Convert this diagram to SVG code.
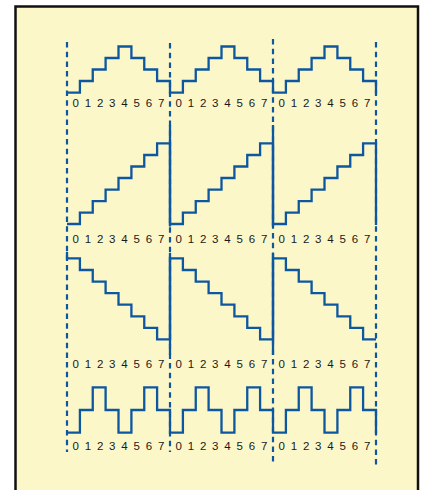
<svg xmlns="http://www.w3.org/2000/svg" width="426" height="490" viewBox="0 0 426 490">
<style>
.wave{fill:none;stroke:#0d57a0;stroke-width:2.3;stroke-linejoin:miter;stroke-linecap:butt}
.bar{fill:none;stroke:#0d57a0;stroke-width:2.3}
.dash{fill:none;stroke:#0d57a0;stroke-width:2.2;stroke-dasharray:5.5 4.2}
.lbl{font-family:"Liberation Sans",Arial,sans-serif;font-size:11.5px;fill:#1a1a1a;text-anchor:middle}
</style>
<rect x="0" y="0" width="426" height="490" fill="#ffffff"/>
<rect x="15.5" y="6.5" width="402.5" height="500" fill="#fcf7c9" stroke="#111" stroke-width="2.5"/>
<g id="grid">
<line class="dash" x1="67" y1="42" x2="67" y2="452"/>
<line class="dash" x1="170" y1="43" x2="170" y2="452"/>
<line class="dash" x1="273" y1="39" x2="273" y2="463"/>
<line class="dash" x1="376" y1="42" x2="376" y2="467"/>
</g>
<g id="row1">
<path class="wave" d="M67 92.7 H79.9 V81 H92.75 V69.5 H105.6 V58 H118.5 V46.5 H131.4 V58 H144.25 V69.5 H157.1 V81 H170 V92.7 H182.9 V81 H195.75 V69.5 H208.6 V58 H221.5 V46.5 H234.4 V58 H247.25 V69.5 H260.1 V81 H273 V92.7 H285.9 V81 H298.75 V69.5 H311.6 V58 H324.5 V46.5 H337.4 V58 H350.25 V69.5 H363.1 V81 H376 V93.5"/>
<text class="lbl" x="75.7 87.9 100.1 112.3 124.5 136.7 148.9 161.1" y="107.2">01234567</text>
<text class="lbl" x="178.7 190.9 203.1 215.3 227.5 239.7 251.9 264.1" y="107.2">01234567</text>
<text class="lbl" x="281.7 293.9 306.1 318.3 330.5 342.7 354.9 367.1" y="107.2">01234567</text>
</g>
<g id="row2">
<path class="wave" d="M67 224 H79.9 V212.6 H92.75 V201.1 H105.6 V189.6 H118.5 V178 H131.4 V166.5 H144.25 V155 H157.1 V143.4 H170 V224 H182.9 V212.6 H195.75 V201.1 H208.6 V189.6 H221.5 V178 H234.4 V166.5 H247.25 V155 H260.1 V143.4 H273 V224 H285.9 V212.6 H298.75 V201.1 H311.6 V189.6 H324.5 V178 H337.4 V166.5 H350.25 V155 H363.1 V143.4 H376 V225"/>
<line class="bar" x1="170" y1="125" x2="170" y2="226.5"/>
<line class="bar" x1="273" y1="125" x2="273" y2="226.5"/>
<text class="lbl" x="75.7 87.9 100.1 112.3 124.5 136.7 148.9 161.1" y="242.8">01234567</text>
<text class="lbl" x="178.7 190.9 203.1 215.3 227.5 239.7 251.9 264.1" y="242.8">01234567</text>
<text class="lbl" x="281.7 293.9 306.1 318.3 330.5 342.7 354.9 367.1" y="242.8">01234567</text>
</g>
<g id="row3">
<path class="wave" d="M67 252 V258.3 H79.9 V270 H92.75 V281.6 H105.6 V293.2 H118.5 V304.7 H131.4 V316.3 H144.25 V327.8 H157.1 V339.3 H170 V258.3 H182.9 V270 H195.75 V281.6 H208.6 V293.2 H221.5 V304.7 H234.4 V316.3 H247.25 V327.8 H260.1 V339.3 H273 V258.3 H285.9 V270 H298.75 V281.6 H311.6 V293.2 H324.5 V304.7 H337.4 V316.3 H350.25 V327.8 H363.1 V339.3 H376"/>
<line class="bar" x1="170" y1="253" x2="170" y2="355"/>
<line class="bar" x1="273" y1="253" x2="273" y2="355"/>
<text class="lbl" x="75.7 87.9 100.1 112.3 124.5 136.7 148.9 161.1" y="367.5">01234567</text>
<text class="lbl" x="178.7 190.9 203.1 215.3 227.5 239.7 251.9 264.1" y="367.5">01234567</text>
<text class="lbl" x="281.7 293.9 306.1 318.3 330.5 342.7 354.9 367.1" y="367.5">01234567</text>
</g>
<g id="row4">
<path class="wave" d="M67 432.7 H79.9 V410 H92.75 V387.3 H105.6 V410 H118.5 V432.7 H131.4 V410 H144.25 V387.3 H157.1 V410 H170 V432.7 H182.9 V410 H195.75 V387.3 H208.6 V410 H221.5 V432.7 H234.4 V410 H247.25 V387.3 H260.1 V410 H273 V432.7 H285.9 V410 H298.75 V387.3 H311.6 V410 H324.5 V432.7 H337.4 V410 H350.25 V387.3 H363.1 V410 H376 V433.5"/>
<text class="lbl" x="75.7 87.9 100.1 112.3 124.5 136.7 148.9 161.1" y="450.2">01234567</text>
<text class="lbl" x="178.7 190.9 203.1 215.3 227.5 239.7 251.9 264.1" y="450.2">01234567</text>
<text class="lbl" x="281.7 293.9 306.1 318.3 330.5 342.7 354.9 367.1" y="450.2">01234567</text>
</g>
</svg>
